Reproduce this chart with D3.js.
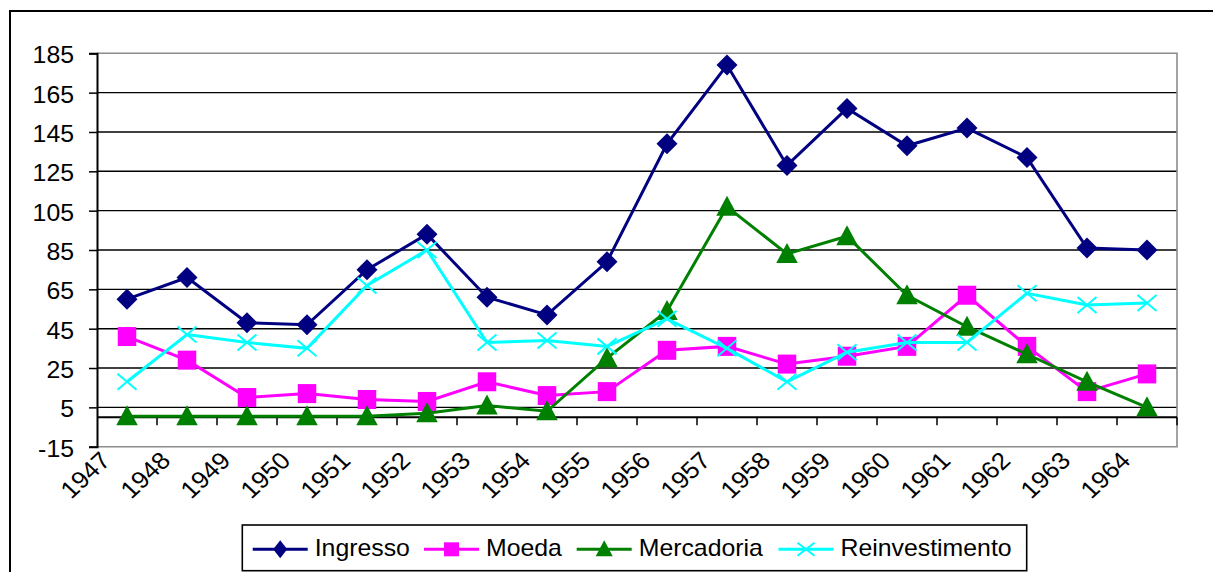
<!DOCTYPE html>
<html>
<head>
<meta charset="utf-8">
<script src="https://cdn.jsdelivr.net/npm/d3@7"></script>
<style>
  html, body { margin: 0; padding: 0; background: #fff; }
  svg { display: block; }
  text { font-family: "Liberation Sans", Arial, sans-serif; fill: #000; }
</style>
</head>
<body>
<svg id="chart" width="1213" height="572"></svg>
<script>
// ---- data ----
const years = ["1947","1948","1949","1950","1951","1952","1953","1954","1955",
               "1956","1957","1958","1959","1960","1961","1962","1963","1964"];
const ingresso       = [60, 71, 48, 47, 75, 93, 61, 52, 79, 139, 179, 128, 157, 138, 147, 132, 86, 85];
const moeda          = [41, 29, 10, 12, 9, 8, 18, 11, 13, 34, 36, 27, 31, 36, 62, 36, 13, 22];
const mercadoria     = [0.5, 0.5, 0.5, 0.5, 0.5, 2, 6, 3, 30, 54, 107, 83, 92, 62, 46, 32, 18, 5];
const reinvestimento = [18, 42, 38, 35, 67, 85, 38, 39, 36, 50, 35, 18, 33, 38, 38, 63, 57, 58];
const seriesNames = ["Ingresso", "Moeda", "Mercadoria", "Reinvestimento"];
const yTicks = [-15, 5, 25, 45, 65, 85, 105, 125, 145, 165, 185];

// ---- layout / style ----
const SX = 1.08;       // slight horizontal stretch of the original picture
const FS = 23;
const colors = ["#000080", "#FF00FF", "#008000", "#00FFFF"];
const markers = ["diamond", "square", "triangle", "cross"];
const values = [ingresso, moeda, mercadoria, reinvestimento];

const svg = d3.select("#chart");
const pLeft = 97, pRight = 1177, pTop = 53.3, pBottom = 446.7;

const x = d3.scaleBand().domain(years).range([pLeft, pRight]);
const y = d3.scaleLinear().domain([-15, 185]).range([pBottom, pTop]);

// outer chart border
svg.append("rect").attr("x", 10).attr("y", 11).attr("width", 1400).attr("height", 800)
  .attr("fill", "none").attr("stroke", "#000").attr("stroke-width", 2);

// gridlines
svg.append("g").selectAll("line").data(yTicks.filter(t => t > -15 && t < 185)).join("line")
  .attr("x1", pLeft).attr("x2", pRight)
  .attr("y1", d => y(d)).attr("y2", d => y(d))
  .attr("stroke", "#000").attr("stroke-width", 1.4);

// plot frame (gray)
svg.append("path")
  .attr("d", `M${pLeft},${pTop}H${pRight}V${pBottom}H${pLeft}`)
  .attr("fill", "none").attr("stroke", "#8c8c8c").attr("stroke-width", 1.6);

// y axis
const yAxis = svg.append("g").attr("transform", `translate(${pLeft},0)`)
  .call(d3.axisLeft(y).tickValues(yTicks).tickSize(8).tickFormat(d => d));
yAxis.select(".domain").attr("stroke", "#000").attr("stroke-width", 2);
yAxis.selectAll(".tick line").attr("stroke", "#000").attr("stroke-width", 1.5);
yAxis.selectAll(".tick text")
  .attr("x", null).attr("dy", null)
  .attr("text-anchor", "end")
  .attr("transform", `translate(-23,9.4) scale(${SX},1)`)
  .style("font-size", FS + "px")
  .style("font-family", '"Liberation Sans", Arial, sans-serif')
  .attr("fill", "#000");

// x axis at y = 0
const xAxisG = svg.append("g").attr("transform", `translate(0,${y(0)})`);
xAxisG.append("line").attr("x1", pLeft).attr("x2", pRight).attr("y1", 0).attr("y2", 0)
  .attr("stroke", "#000").attr("stroke-width", 2);
const boundaries = years.map(d => x(d)).concat([x(years[years.length - 1]) + x.bandwidth()]);
xAxisG.selectAll("line.tk").data(boundaries.slice(1)).join("line").attr("class", "tk")
  .attr("x1", d => d).attr("x2", d => d).attr("y1", 0).attr("y2", 8)
  .attr("stroke", "#000").attr("stroke-width", 1.5);

// x labels (rotated)
svg.append("g").selectAll("text").data(years).join("text")
  .attr("text-anchor", "end")
  .attr("transform", d => `translate(${x(d) + x.bandwidth() / 2 - 15},462) scale(${SX},1) rotate(-45)`)
  .style("font-size", "24px")
  .text(d => d);

// marker drawer
function drawMarker(g, type, color, w, h) {
  if (type === "diamond") {
    g.append("path").attr("d", `M0,${-h/2}L${w/2},0L0,${h/2}L${-w/2},0Z`).attr("fill", color);
  } else if (type === "square") {
    g.append("rect").attr("x", -w/2).attr("y", -h/2).attr("width", w).attr("height", h).attr("fill", color);
  } else if (type === "triangle") {
    g.append("path").attr("d", `M0,${-h/2 - 1}L${w/2},${h/2 - 1}L${-w/2},${h/2 - 1}Z`).attr("fill", color);
  } else if (type === "cross") {
    g.append("path").attr("d", `M${-w/2},${-h/2}L${w/2},${h/2}M${-w/2},${h/2}L${w/2},${-h/2}`)
      .attr("stroke", color).attr("stroke-width", 2).attr("fill", "none");
  }
}
const mSize = { diamond: [21, 21], square: [18.5, 19], triangle: [21.5, 20], cross: [19, 16] };
const lSize = { diamond: [14, 18], square: [15, 14], triangle: [17, 16], cross: [17, 13] };

// series
const line = d3.line().x((d, i) => x(years[i]) + x.bandwidth() / 2).y(d => y(d));
values.forEach((vals, s) => {
  const g = svg.append("g");
  g.append("path").datum(vals).attr("d", line)
    .attr("fill", "none").attr("stroke", colors[s]).attr("stroke-width", 3)
    .attr("stroke-linejoin", "miter");
  vals.forEach((v, i) => {
    const mg = g.append("g").attr("transform", `translate(${x(years[i]) + x.bandwidth() / 2},${y(v)})`);
    drawMarker(mg, markers[s], colors[s], mSize[markers[s]][0], mSize[markers[s]][1]);
  });
});

// legend
const legend = svg.append("g");
legend.append("rect").attr("x", 242.3).attr("y", 525).attr("width", 784.4).attr("height", 45.7)
  .attr("fill", "#fff").attr("stroke", "#000").attr("stroke-width", 1.6);
const legX = [252.7, 424, 576.7, 778.5];
const ly = 549.3;
seriesNames.forEach((name, s) => {
  const x0 = legX[s];
  legend.append("line").attr("x1", x0).attr("x2", x0 + 55).attr("y1", ly).attr("y2", ly)
    .attr("stroke", colors[s]).attr("stroke-width", 3);
  const mg = legend.append("g").attr("transform", `translate(${x0 + 27.5},${ly})`);
  drawMarker(mg, markers[s], colors[s], lSize[markers[s]][0], lSize[markers[s]][1]);
  legend.append("text").attr("transform", `translate(${x0 + 62},556) scale(${SX},1)`)
    .style("font-size", FS + "px").text(name);
});
</script>
</body>
</html>
